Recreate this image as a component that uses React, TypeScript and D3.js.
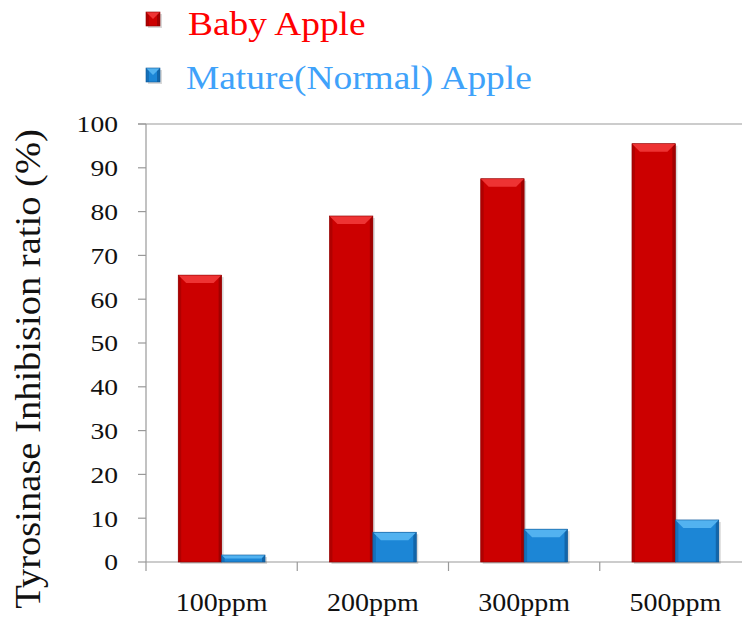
import * as d3 from 'd3';
import React from 'react';

const width = 742;
const height = 618;
const margin = { top: 124, right: -9, bottom: 56, left: 146 };

const categories = ['100ppm', '200ppm', '300ppm', '500ppm'];
const seriesNames = ['Baby Apple', 'Mature(Normal) Apple'];
const babyApple = [65.5, 79, 87.5, 95.5];
const matureApple = [1.6, 6.8, 7.5, 9.6];
const yTicks = [0, 10, 20, 30, 40, 50, 60, 70, 80, 90, 100];

// face / light bevel / dark edge per series
const palette = [
  { face: '#CC0000', light: '#EE3333', dark: '#8E0000', text: '#FF0000' },
  { face: '#1C86D6', light: '#52B2F0', dark: '#0E5796', text: '#3FA2FA' },
];

const serif = '"Liberation Serif", "Times New Roman", serif';

function Bar({ x, y, w, h, c }: { x: number; y: number; w: number; h: number; c: typeof palette[0] }) {
  const bev = Math.min(8, h / 2);
  const side = Math.min(3, w / 4);
  return (
    <g>
      <rect x={x + 2} y={y + 2} width={w} height={h} fill="#000" opacity={0.15} />
      <rect x={x} y={y} width={w} height={h} fill={c.face} />
      <rect x={x} y={y} width={side} height={h} fill={c.dark} opacity={0.45} />
      <rect x={x + w - side} y={y} width={side} height={h} fill={c.dark} opacity={0.7} />
      <polygon
        points={`${x},${y} ${x + w},${y} ${x + w - bev},${y + bev} ${x + bev},${y + bev}`}
        fill={c.light}
      />
      <rect x={x} y={y} width={w} height={h} fill="none" stroke={c.dark} strokeWidth={0.6} />
    </g>
  );
}

export default function App() {
  const innerRight = width - margin.right;
  const yScale = d3.scaleLinear().domain([0, 100]).range([height - margin.bottom, margin.top]);
  const x0 = d3.scaleBand().domain(categories).range([margin.left, innerRight]).padding(0);
  const step = x0.step();
  const x1 = d3
    .scaleBand()
    .domain(seriesNames)
    .range([step * 0.213, step * 0.787])
    .padding(0);

  const series = [babyApple, matureApple];
  const y0 = yScale(0);

  return (
    <svg width={width} height={height} style={{ display: 'block', position: 'absolute', left: 0, top: 0 }}>
      <rect width={width} height={height} fill="#fff" />

      {/* legend */}
      {seriesNames.map((name, i) => {
        const ly = i === 0 ? 12 : 68;
        const c = palette[i];
        return (
          <g key={name}>
            <Bar x={146} y={ly} w={14} h={14} c={c} />
            <text
              transform={`translate(${i === 0 ? 188 : 186}, ${i === 0 ? 35 : 89}) scale(1.1, 1)`}
              fontFamily={serif}
              fontSize={34}
              fill={c.text}
            >
              {name}
            </text>
          </g>
        );
      })}

      {/* top border */}
      <line x1={margin.left - 8} x2={width} y1={margin.top} y2={margin.top} stroke="#999" strokeWidth={1.2} />

      {/* y axis */}
      <line x1={margin.left} x2={margin.left} y1={margin.top} y2={y0 + 9} stroke="#999" strokeWidth={1.2} />
      {yTicks.map((t) => (
        <g key={t}>
          <line x1={margin.left - 8} x2={margin.left} y1={yScale(t)} y2={yScale(t)} stroke="#999" strokeWidth={1.2} />
          <text
            transform={`translate(118, ${yScale(t)}) scale(1.15, 1)`}
            dy="0.35em"
            textAnchor="end"
            fontFamily={serif}
            fontSize={24}
            fill="#111"
          >
            {t}
          </text>
        </g>
      ))}

      {/* x axis */}
      <line x1={margin.left} x2={width} y1={y0} y2={y0} stroke="#999" strokeWidth={1.2} />
      {categories.map((cat) => (
        <line
          key={cat}
          x1={(x0(cat) as number) + step}
          x2={(x0(cat) as number) + step}
          y1={y0}
          y2={y0 + 9}
          stroke="#999"
          strokeWidth={1.2}
        />
      ))}

      {/* bars */}
      {categories.map((cat, ci) => (
        <g key={cat}>
          {seriesNames.map((name, si) => {
            const v = series[si][ci];
            const bx = (x0(cat) as number) + (x1(name) as number);
            const by = yScale(v);
            return <Bar key={name} x={bx} y={by} w={x1.bandwidth()} h={y0 - by} c={palette[si]} />;
          })}
          <text
            transform={`translate(${(x0(cat) as number) + step / 2}, 611) scale(1.12, 1)`}
            textAnchor="middle"
            fontFamily={serif}
            fontSize={25}
            fill="#111"
          >
            {cat}
          </text>
        </g>
      ))}

      {/* y title */}
      <text
        transform={`translate(40, ${(margin.top + height) / 2 - 2}) rotate(-90) scale(1.07, 1)`}
        textAnchor="middle"
        fontFamily={serif}
        fontSize={36}
        fill="#111"
      >
        Tyrosinase Inhibision ratio (%)
      </text>
    </svg>
  );
}
